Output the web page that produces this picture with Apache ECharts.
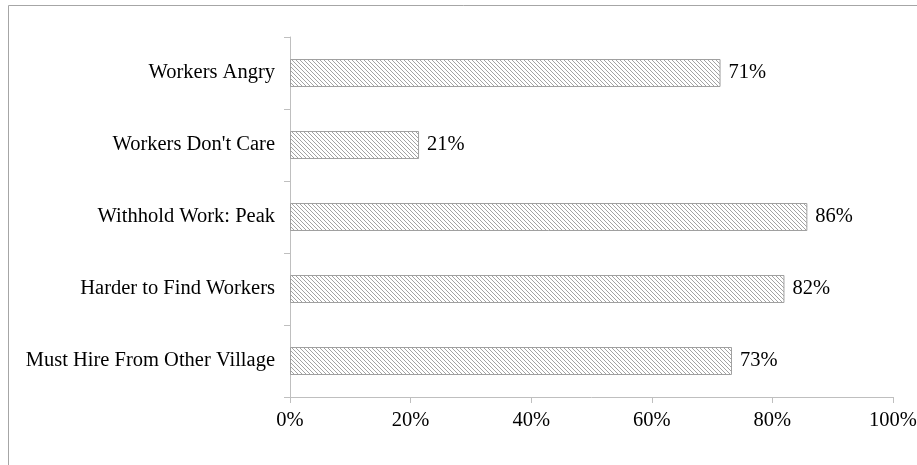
<!DOCTYPE html>
<html lang="en">
<head>
    <meta charset="UTF-8">
    <title>Workers survey bars</title>
    <script src="https://cdn.jsdelivr.net/npm/echarts@6/dist/echarts.min.js"></script>
    <style>
        html, body { margin: 0; padding: 0; background: #fff; }
    </style>
</head>
<body>
<div id="main" style="width: 917px;height:465px;"></div>
<script type="text/javascript">
    var categories = ['Workers Angry', "Workers Don't Care", 'Withhold Work: Peak', 'Harder to Find Workers', 'Must Hire From Other Village'];
    var shares = [71.4, 21.4, 85.8, 82.0, 73.3];
    var shareLabels = ['71%', '21%', '86%', '82%', '73%'];
    var xTicks = [0, 20, 40, 60, 80, 100];

    // diagonal hatch, like the excel pattern fill
    var hatch = document.createElement('canvas');
    hatch.width = 4;
    hatch.height = 4;
    var ctx = hatch.getContext('2d');
    ctx.fillStyle = '#fff';
    ctx.fillRect(0, 0, 4, 4);
    ctx.fillStyle = '#a3a3a3';
    for (var i = 0; i < 4; i++) {
        ctx.fillRect(i, i, 1, 1);
    }

    var font = 'Liberation Serif';
    var myChart = echarts.init(document.getElementById('main'));
    myChart.setOption({
        animation: false,
        backgroundColor: '#fff',
        grid: { left: 290, right: 24, top: 37, bottom: 68, containLabel: false, outerBoundsMode: 'none' },
        graphic: [{
            type: 'rect',
            shape: { x: 8.5, y: 5.5, width: 1000, height: 1000 },
            style: { fill: 'none', stroke: '#a6a6a6', lineWidth: 1 },
            silent: true
        }],
        xAxis: {
            type: 'value',
            min: 0,
            max: 100,
            interval: 20,
            splitLine: { show: false },
            axisLine: { show: true, lineStyle: { color: '#bfbfbf' } },
            axisTick: { show: true, length: 6, lineStyle: { color: '#bfbfbf' } },
            axisLabel: {
                margin: 13,
                color: '#000',
                fontFamily: font,
                fontSize: 20.5,
                formatter: function (v) { return xTicks.indexOf(v) >= 0 ? v + '%' : ''; }
            }
        },
        yAxis: {
            type: 'category',
            inverse: true,
            data: categories,
            axisLine: { show: true, lineStyle: { color: '#bfbfbf' } },
            axisTick: { show: true, length: 6, lineStyle: { color: '#bfbfbf' } },
            axisLabel: { margin: 15, color: '#000', fontFamily: font, fontSize: 20.5 }
        },
        series: [{
            type: 'bar',
            data: shares,
            barWidth: 28,
            itemStyle: {
                color: { image: hatch, repeat: 'repeat' },
                borderColor: '#a0a0a0',
                borderWidth: 1
            },
            label: {
                show: true,
                position: 'right',
                distance: 8,
                color: '#000',
                fontFamily: font,
                fontSize: 20.5,
                formatter: function (p) { return shareLabels[p.dataIndex]; }
            }
        }]
    });
</script>
</body>
</html>
